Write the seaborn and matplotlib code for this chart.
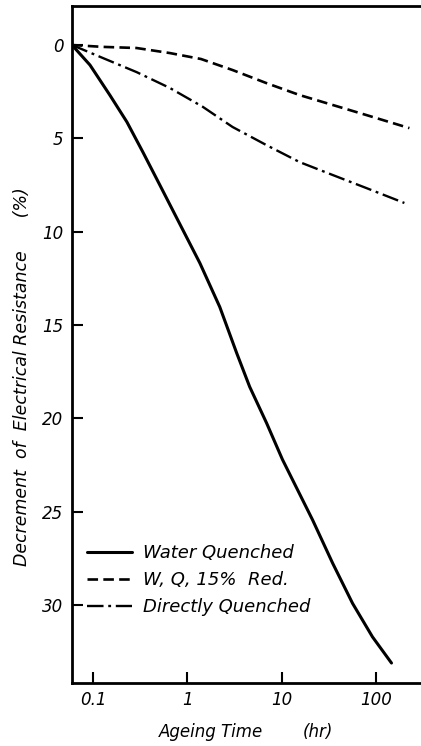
import numpy as np
import pandas as pd
import matplotlib
matplotlib.use("Agg")
import matplotlib.pyplot as plt
import seaborn as sns

# Ageing curves: decrement of electrical resistance (%) vs ageing time (hr)
wq_time = [0.06, 0.093, 0.151, 0.229, 0.338, 0.512, 0.774, 1.36, 2.21, 3.34,
           4.58, 6.93, 10.2, 21.3, 34.7, 56.4, 91.8, 146]
wq_decr = [0.0, 1.07, 2.68, 4.12, 5.73, 7.5, 9.27, 11.68, 14.03, 16.5,
           18.3, 20.25, 22.2, 25.44, 27.75, 29.9, 31.7, 33.1]

red_time = [0.06, 0.128, 0.29, 0.653, 1.4, 3.02, 6.9, 15.5, 34.7, 79, 226]
red_decr = [0.0, 0.1, 0.16, 0.43, 0.75, 1.34, 2.04, 2.68, 3.21, 3.75, 4.45]

dq_time = [0.06, 0.128, 0.29, 0.653, 1.45, 3.02, 6.9, 15.5, 34.7, 79, 200]
dq_decr = [0.0, 0.7, 1.45, 2.3, 3.3, 4.39, 5.36, 6.27, 6.96, 7.66, 8.46]

series_names = ["Water Quenched", "W, Q, 15%  Red.", "Directly Quenched"]
x_ticks = [0.1, 1, 10, 100]
x_ticklabels = ["0.1", "1", "10", "100"]
y_ticks = [0, 5, 10, 15, 20, 25, 30]

sns.set_theme(style="ticks")
plt.rcParams["font.family"] = ["DejaVu Sans"]
plt.rcParams["font.style"] = "italic"
for key in ["text.color", "axes.labelcolor", "xtick.color", "ytick.color"]:
    plt.rcParams[key] = "black"

fig = plt.figure(figsize=(4.21, 7.46), dpi=100)
ax = fig.add_axes([72 / 421, 63 / 746, 349 / 421, 677 / 746])

frames = []
for name, t, d in zip(series_names, [wq_time, red_time, dq_time], [wq_decr, red_decr, dq_decr]):
    frames.append(pd.DataFrame({"time": t, "decr": d, "series": name}))
df = pd.concat(frames, ignore_index=True)

styles = {
    series_names[0]: dict(lw=2.2, ls="-"),
    series_names[1]: dict(lw=1.9, ls=(0, (4, 2))),
    series_names[2]: dict(lw=1.7, ls=(0, (7, 2, 1.2, 2))),
}
for name in series_names:
    sub = df[df["series"] == name]
    sns.lineplot(data=sub, x="time", y="decr", ax=ax, color="black",
                 linewidth=styles[name]["lw"], linestyle=styles[name]["ls"],
                 label=name, sort=False, estimator=None)

ax.set_xscale("log")
ax.set_xlim(0.06, 300)
ax.set_ylim(34.17, -2.09)

ax.set_xticks(x_ticks)
ax.set_xticklabels(x_ticklabels)
ax.xaxis.set_minor_locator(matplotlib.ticker.NullLocator())
ax.set_yticks(y_ticks)
ax.set_yticklabels([str(v) for v in y_ticks])

ax.tick_params(axis="both", direction="in", length=8, width=1.5,
               labelsize=12, colors="black", pad=6)
for lbl in ax.get_xticklabels() + ax.get_yticklabels():
    lbl.set_fontstyle("italic")

for side in ["left", "bottom", "top"]:
    ax.spines[side].set_visible(True)
    ax.spines[side].set_linewidth(2.0)
    ax.spines[side].set_color("black")
ax.spines["right"].set_visible(False)

ax.set_xlabel("")
ax.set_ylabel("")

# axis titles
fig.text(211 / 421, 1 - 732 / 746, "Ageing Time", ha="center", va="center",
         fontsize=12, style="italic")
fig.text(318 / 421, 1 - 732 / 746, "(hr)", ha="center", va="center",
         fontsize=12, style="italic")
fig.text(22 / 421, 1 - 377 / 746, "Decrement  of  Electrical Resistance      (%)",
         ha="center", va="center", rotation=90, fontsize=12.5, style="italic")

leg = ax.legend(loc="upper left", bbox_to_anchor=(0.018, 0.218), frameon=False,
                handlelength=2.5, handletextpad=0.6, labelspacing=0.5,
                borderpad=0, prop={"size": 13, "style": "italic"})

fig.savefig("out.png", dpi=100)
